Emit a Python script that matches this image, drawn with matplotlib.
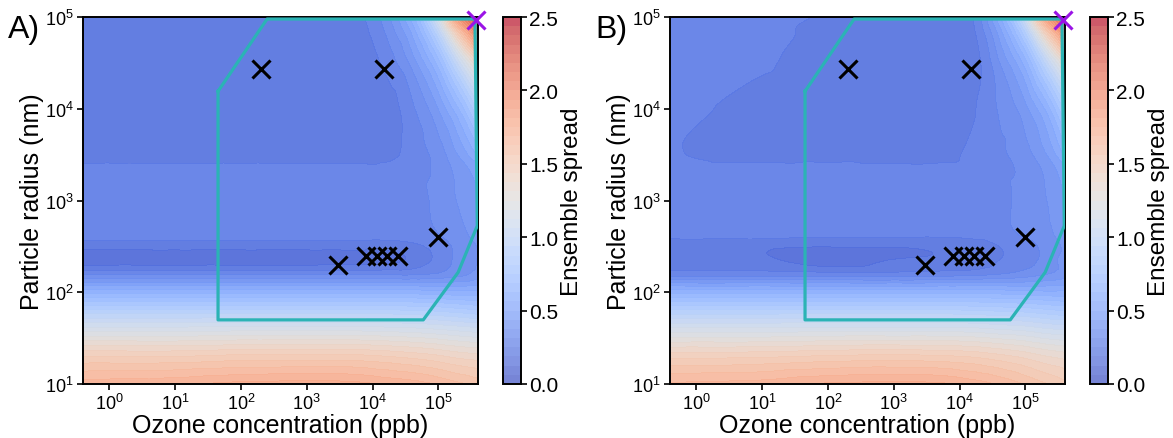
import numpy as np
import matplotlib
matplotlib.use("Agg")
import matplotlib.pyplot as plt
from matplotlib.tri import Triangulation, UniformTriRefiner, CubicTriInterpolator

plt.rcParams['font.family'] = ['Liberation Sans', 'DejaVu Sans']

# ---------------- data ----------------
# grid positions (log10 of ozone ppb, log10 of radius nm)
log_ozone = [-0.4, 1.0, 2.0, 3.0, 3.75, 4.25, 4.6, 5.0, 5.3, 5.61]
log_radius = [1.0, 1.3, 1.6, 1.85, 2.05, 2.2, 2.35, 2.5, 2.62, 3.0, 3.35, 3.5, 4.0, 4.5, 4.8, 5.0]

# ensemble spread, panel A (rows = log_radius, cols = log_ozone)
spread_A = [
    [1.72, 1.74, 1.77, 1.78, 1.77, 1.74, 1.72, 1.68, 1.64, 1.60],
    [1.50, 1.50, 1.52, 1.52, 1.52, 1.50, 1.48, 1.45, 1.42, 1.40],
    [1.15, 1.15, 1.16, 1.16, 1.16, 1.15, 1.14, 1.12, 1.10, 1.08],
    [0.82, 0.82, 0.82, 0.82, 0.82, 0.82, 0.81, 0.80, 0.78, 0.76],
    [0.53, 0.53, 0.53, 0.53, 0.53, 0.53, 0.53, 0.52, 0.52, 0.53],
    [0.30, 0.30, 0.30, 0.30, 0.30, 0.30, 0.30, 0.32, 0.35, 0.40],
    [0.15, 0.15, 0.15, 0.15, 0.16, 0.17, 0.20, 0.27, 0.33, 0.38],
    [0.21, 0.21, 0.21, 0.21, 0.21, 0.21, 0.23, 0.28, 0.33, 0.38],
    [0.28, 0.28, 0.28, 0.28, 0.28, 0.28, 0.29, 0.31, 0.35, 0.40],
    [0.28, 0.28, 0.28, 0.28, 0.28, 0.28, 0.29, 0.33, 0.38, 0.43],
    [0.27, 0.27, 0.27, 0.27, 0.27, 0.27, 0.29, 0.33, 0.40, 0.48],
    [0.21, 0.21, 0.21, 0.21, 0.21, 0.23, 0.28, 0.34, 0.44, 0.58],
    [0.21, 0.21, 0.21, 0.21, 0.21, 0.22, 0.30, 0.44, 0.62, 0.90],
    [0.21, 0.21, 0.21, 0.21, 0.21, 0.28, 0.40, 0.66, 1.02, 1.42],
    [0.21, 0.21, 0.21, 0.21, 0.22, 0.33, 0.50, 0.92, 1.48, 2.00],
    [0.21, 0.21, 0.21, 0.21, 0.23, 0.37, 0.60, 1.18, 1.90, 2.30],
]

# ensemble spread, panel B
spread_B = [
    [1.70, 1.72, 1.76, 1.77, 1.76, 1.72, 1.68, 1.62, 1.57, 1.52],
    [1.48, 1.49, 1.51, 1.52, 1.51, 1.49, 1.46, 1.42, 1.38, 1.35],
    [1.14, 1.14, 1.15, 1.15, 1.15, 1.14, 1.12, 1.10, 1.07, 1.05],
    [0.82, 0.82, 0.82, 0.82, 0.82, 0.81, 0.80, 0.79, 0.77, 0.75],
    [0.53, 0.53, 0.53, 0.53, 0.53, 0.53, 0.53, 0.52, 0.52, 0.53],
    [0.28, 0.28, 0.27, 0.27, 0.28, 0.29, 0.31, 0.34, 0.37, 0.41],
    [0.21, 0.20, 0.15, 0.19, 0.20, 0.21, 0.25, 0.29, 0.33, 0.41],
    [0.20, 0.20, 0.19, 0.19, 0.20, 0.21, 0.25, 0.29, 0.33, 0.39],
    [0.27, 0.27, 0.26, 0.26, 0.26, 0.27, 0.29, 0.32, 0.35, 0.41],
    [0.28, 0.28, 0.28, 0.28, 0.28, 0.28, 0.30, 0.33, 0.37, 0.44],
    [0.28, 0.28, 0.28, 0.27, 0.27, 0.28, 0.30, 0.33, 0.39, 0.49],
    [0.26, 0.21, 0.21, 0.21, 0.22, 0.28, 0.30, 0.35, 0.43, 0.58],
    [0.28, 0.22, 0.21, 0.21, 0.21, 0.25, 0.32, 0.42, 0.57, 0.85],
    [0.28, 0.26, 0.21, 0.21, 0.21, 0.23, 0.37, 0.60, 0.95, 1.35],
    [0.28, 0.28, 0.22, 0.21, 0.21, 0.25, 0.45, 0.85, 1.40, 1.92],
    [0.28, 0.28, 0.24, 0.21, 0.21, 0.27, 0.55, 1.10, 1.82, 2.25],
]

# experiments (black crosses)
exp_ozone = [200, 15000, 3000, 8000, 11500, 16500, 24000, 100000]
exp_radius = [27000, 27000, 200, 250, 250, 250, 250, 400]
# purple cross
query_ozone = [3.7e5]
query_radius = [9.2e4]

# convex hull of the training domain
hull_ozone = [45, 250, 3.6e5, 3.9e5, 2.0e5, 5.9e4, 45, 45]
hull_radius = [1.55e4, 9.5e4, 9.5e4, 530, 165, 50, 50, 1.55e4]

panel_labels = ['A)', 'B)']
xticks = [1e0, 1e1, 1e2, 1e3, 1e4, 1e5]
yticks = [1e1, 1e2, 1e3, 1e4, 1e5]
cbar_ticks = [0.0, 0.5, 1.0, 1.5, 2.0, 2.5]
levels = np.linspace(0, 2.5, 41)

# ---------------- figure ----------------
W, H = 1173, 439
fig = plt.figure(figsize=(W / 100, H / 100), dpi=100)

def fx(px):
    return px / W

def fy(py):
    return 1 - py / H

layouts = [
    dict(ax=(83, 18, 478, 385), cb=(503, 521), lab=(8, 38)),
    dict(ax=(670, 18, 1065, 385), cb=(1090, 1108), lab=(595, 38)),
]

X, Y = np.meshgrid(log_ozone, log_radius)
tri_log = Triangulation(X.ravel(), Y.ravel())
refiner = UniformTriRefiner(tri_log)

for data, lay, lab in zip([spread_A, spread_B], layouts, panel_labels):
    l, t, r, b = lay['ax']
    ax = fig.add_axes([fx(l), fy(b), fx(r - l), (b - t) / H])
    z = np.asarray(data, dtype=float).ravel()
    interp = CubicTriInterpolator(tri_log, z, kind='geom')
    tri_ref, z_ref = refiner.refine_field(z, triinterpolator=interp, subdiv=4)
    z_ref = np.clip(z_ref, 0.001, 2.499)
    tri_lin = Triangulation(10 ** tri_ref.x, 10 ** tri_ref.y, tri_ref.triangles)
    ax.set_xscale('log')
    ax.set_yscale('log')
    cs = ax.tricontourf(tri_lin, z_ref, levels=levels, cmap='coolwarm',
                        vmin=0, vmax=2.5, alpha=0.7)
    ax.tricontourf(tri_lin, z_ref, levels=levels, cmap='coolwarm',
                   vmin=0, vmax=2.5, alpha=0.7)
    ax.plot(hull_ozone, hull_radius, color='#2bb3b5', lw=2.3, zorder=3)
    ax.plot(exp_ozone, exp_radius, linestyle='none', marker='x', color='black',
            markersize=13, markeredgewidth=2.2, zorder=4)
    ax.plot(query_ozone, query_radius, linestyle='none', marker='x', color='#9a14e6',
            markersize=13, markeredgewidth=2.2, zorder=5, clip_on=False)
    ax.set_xlim(0.4, 4.0e5)
    ax.set_ylim(1e1, 1e5)
    ax.set_xticks(xticks)
    ax.set_yticks(yticks)
    ax.minorticks_off()
    ax.tick_params(labelsize=13, width=1.2, length=4, pad=2.5)
    for s in ax.spines.values():
        s.set_linewidth(1.4)
    ax.set_xlabel('Ozone concentration (ppb)', fontsize=18, labelpad=0)
    ax.set_ylabel('Particle radius (nm)', fontsize=18, labelpad=1)

    c0, c1 = lay['cb']
    cax = fig.add_axes([fx(c0), fy(b), fx(c1 - c0), (b - t) / H])
    cb = fig.colorbar(cs, cax=cax, ticks=cbar_ticks)
    cb.ax.set_yticklabels(['%.1f' % v for v in cbar_ticks])
    cb.ax.tick_params(labelsize=15, width=1.2, length=4, pad=2)
    cb.outline.set_linewidth(1.4)
    cb.set_label('Ensemble spread', fontsize=17.5, labelpad=2)

    lx, ly = lay['lab']
    fig.text(fx(lx), fy(ly), lab, fontsize=23, ha='left', va='baseline')

fig.savefig('out.png', dpi=100)
